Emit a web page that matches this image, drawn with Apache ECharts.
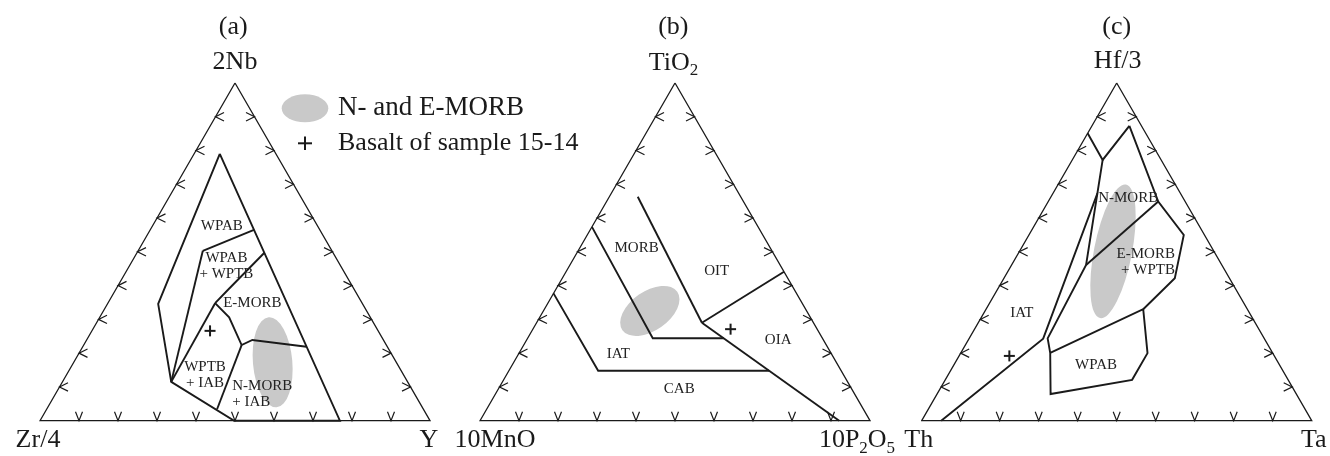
<!DOCTYPE html>
<html>
<head>
<meta charset="utf-8">
<script src="https://cdn.jsdelivr.net/npm/echarts@6/dist/echarts.min.js"></script>
<style>
  html, body { margin: 0; padding: 0; background: #fff; }
  #chart { width: 1330px; height: 456px; }
</style>
</head>
<body>
<div id="chart"></div>
<script>
// All compositions are [top, left, right] in percent of the three apices.
const tickFractions = [10, 20, 30, 40, 50, 60, 70, 80, 90];

const panelTitles = ['(a)', '(b)', '(c)'];
const apexNamesA = ['2Nb', 'Zr/4', 'Y'];
const apexNamesB = ['TiO2', '10MnO', '10P2O5'];
const apexNamesC = ['Hf/3', 'Th', 'Ta'];

// (a) 2Nb - Zr/4 - Y (Meschede)
const aFieldOutline = [[79.0, 14.4, 6.6], [34.6, 52.4, 13.0], [11.5, 60.6, 27.9], [0, 50.2, 49.8], [0, 23.1, 76.9], [79.0, 14.4, 6.6]];
const aWpabTop = [[50.3, 33.1, 16.6], [56.5, 16.9, 26.6]];
const aWpabWptbLeft = [[50.3, 33.1, 16.6], [11.5, 60.6, 27.9]];
const aEmorbTop = [[49.8, 17.5, 32.7], [38.7, 32.5, 28.8], [34.8, 37.7, 27.5]];
const aEmorbLeft = [[34.8, 37.7, 27.5], [11.5, 60.6, 27.9]];
const aEmorbBottom = [[34.8, 37.7, 27.5], [30.6, 36.2, 33.2], [22.4, 37.1, 40.5], [23.9, 33.6, 42.5], [21.9, 20.7, 57.4]];
const aNmorbLeft = [[22.4, 37.1, 40.5], [3.4, 52.9, 43.7]];
const aLabels = [
  { text: 'WPAB', at: [57.7, 24.6, 17.8] },
  { text: 'WPAB\n+ WPTB', at: [45.8, 29.3, 24.9] },
  { text: 'E-MORB', at: [34.9, 28.1, 37.0] },
  { text: 'WPTB\n+ IAB', at: [13.4, 51.0, 35.6] },
  { text: 'N-MORB\n+ IAB', at: [7.8, 46.8, 45.4] }
];
const aSample = [26.6, 43.1, 30.3];
const aMorb = { center: [17.3, 31.7, 51.0], semiMajor: 0.116, semiMinor: 0.0505, angle: 95 };

// (b) TiO2 - 10MnO - 10P2O5 (Mullen)
const bMorbOit = [[66.3, 26.4, 7.3], [29.0, 28.6, 42.4]];
const bOitOia = [[29.0, 28.6, 42.4], [44.1, 0, 55.9]];
const bOiaCab = [[29.0, 28.6, 42.4], [0, 7.9, 92.1]];
const bMorbIat = [[57.4, 42.6, 0], [24.4, 43.5, 32.1], [24.4, 25.3, 50.3]];
const bIatCab = [[37.7, 62.3, 0], [14.8, 62.3, 22.9], [14.8, 18.5, 66.7]];
const bLabels = [
  { text: 'MORB', at: [51.1, 34.3, 14.6] },
  { text: 'OIT', at: [44.4, 17.1, 38.5] },
  { text: 'OIA', at: [23.9, 11.6, 64.5] },
  { text: 'IAT', at: [19.8, 54.7, 25.6] },
  { text: 'CAB', at: [9.3, 44.3, 46.5] }
];
const bSample = [27.1, 22.2, 50.7];
const bMorb = { center: [32.5, 40.2, 27.3], semiMajor: 0.0859, semiMinor: 0.0503, angle: 35 };

// (c) Hf/3 - Th - Ta (Wood)
const cIatBoundary = [[0, 95.0, 5.0], [24.3, 56.7, 19.0], [67.3, 21.3, 11.4]];
const cApexSplit = [[85.1, 14.9, 0], [77.2, 15.0, 7.8], [87.3, 3.1, 9.6]];
const cNmorbLeft = [[77.2, 15.0, 7.8], [46.1, 34.8, 19.1], [24.4, 55.5, 20.1], [20.1, 57.0, 22.9]];
const cNmorbEmorb = [[46.1, 34.8, 19.1], [64.9, 6.9, 28.2]];
const cEmorbRight = [[87.3, 3.1, 9.6], [64.9, 6.9, 28.2], [55.0, 5.3, 39.7], [42.2, 14.0, 43.8], [33.0, 26.7, 40.3]];
const cWpab = [[20.1, 57.0, 22.9], [33.0, 26.7, 40.3], [20.0, 32.1, 47.9], [12.1, 40.0, 47.9], [7.9, 63.0, 29.1], [20.1, 57.0, 22.9]];
const cLabels = [
  { text: 'N-MORB', at: [65.9, 14.1, 20.0] },
  { text: 'E-MORB\n+ WPTB', at: [47.0, 11.6, 41.5] },
  { text: 'IAT', at: [32.0, 58.4, 9.7] },
  { text: 'WPAB', at: [16.5, 47.1, 36.5] }
];
const cSample = [19.2, 68.0, 12.9];
const cMorb = { center: [50.2, 25.9, 24.0], semiMajor: 0.1744, semiMinor: 0.0487, angle: 79 };

const legendMorbText = 'N- and E-MORB';
const legendSampleText = 'Basalt of sample 15-14';

// ---- layout and styles ----
const SQ3_2 = Math.sqrt(3) / 2;
const SIDE = 390;
const BASE = 420.7;
const triLeft = [40, 480, 921.7];
const SERIF = '"Liberation Serif", "Times New Roman", serif';
const INK = '#1a1a1a';
const FIELD_GRAY = '#c9c9c9';
const labelAlign = { 'N-MORB\n+ IAB': 'left', 'E-MORB\n+ WPTB': 'right' };
const apexOffsets = [
  [[0, -21], [-2, 19.5], [-1, 19.5]],
  [[-1.5, -20], [15, 19.5], [-13, 19.5]],
  [[1, -21.5], [-3, 19.5], [2, 19.5]]
];

function toXY(p) {
  const s = p[0] + p[1] + p[2];
  return [(p[2] + p[0] / 2) / s, (p[0] / s) * SQ3_2];
}

// chemical formula digits after a letter become subscripts
function formula(t) {
  return t.replace(/([A-Za-z])(\d+)/g, '$1{s|$2}');
}

const chart = echarts.init(document.getElementById('chart'), null, { renderer: 'canvas' });

function lineSeries(i, pts, width) {
  return {
    type: 'line', xAxisIndex: i, yAxisIndex: i,
    data: pts.map(toXY), symbol: 'none', clip: false, silent: true,
    animation: false, z: 3,
    lineStyle: { color: INK, width: width, join: 'miter' }
  };
}

function panelSeries(i, boundaries, labels, sample, morb, apexNames) {
  const list = [];
  // shaded MORB field
  list.push({
    type: 'custom', xAxisIndex: i, yAxisIndex: i, coordinateSystem: 'cartesian2d',
    data: [toXY(morb.center)], clip: false, silent: true, animation: false, z: 1,
    renderItem: function (params, api) {
      const c = api.coord([api.value(0), api.value(1)]);
      const unit = api.coord([1, 0])[0] - api.coord([0, 0])[0];
      return {
        type: 'circle', x: c[0], y: c[1],
        rotation: morb.angle * Math.PI / 180,
        scaleX: morb.semiMajor / morb.semiMinor,
        shape: { cx: 0, cy: 0, r: morb.semiMinor * unit },
        style: { fill: FIELD_GRAY }
      };
    }
  });
  // triangle frame
  list.push(lineSeries(i, [[100, 0, 0], [0, 100, 0], [0, 0, 100], [100, 0, 0]], 1.3));
  // arrow ticks on the three sides
  list.push({
    type: 'custom', xAxisIndex: i, yAxisIndex: i, coordinateSystem: 'cartesian2d',
    data: tickFractions.map(function (k) { return [k / 100, 0]; }),
    clip: false, silent: true, animation: false, z: 3,
    renderItem: function (params, api) {
      const k = api.value(0) * 100;
      const b = api.coord(toXY([0, 100 - k, k]));
      const l = api.coord(toXY([k, 100 - k, 0]));
      const r = api.coord(toXY([k, 0, 100 - k]));
      const st = { stroke: INK, lineWidth: 1.2, fill: null };
      return {
        type: 'group', children: [
          { type: 'polyline', shape: { points: [[b[0] - 3.5, b[1] - 9], [b[0], b[1]], [b[0] + 3.5, b[1] - 9]] }, style: st },
          { type: 'polyline', shape: { points: [[l[0] + 8.5, l[1] - 4.2], [l[0], l[1]], [l[0] + 8.5, l[1] + 4.2]] }, style: st },
          { type: 'polyline', shape: { points: [[r[0] - 8.5, r[1] - 4.2], [r[0], r[1]], [r[0] - 8.5, r[1] + 4.2]] }, style: st }
        ]
      };
    }
  });
  // field boundaries
  boundaries.forEach(function (pts) { list.push(lineSeries(i, pts, 1.9)); });
  // field names
  list.push({
    type: 'custom', xAxisIndex: i, yAxisIndex: i, coordinateSystem: 'cartesian2d',
    data: labels.map(function (d) { return toXY(d.at); }),
    clip: false, silent: true, animation: false, z: 5,
    renderItem: function (params, api) {
      const p = api.coord([api.value(0), api.value(1)]);
      const t = labels[params.dataIndex].text;
      return {
        type: 'text', x: p[0], y: p[1],
        style: {
          text: t, fontSize: 15, fontFamily: SERIF, fill: '#222',
          align: labelAlign[t] || 'center', verticalAlign: 'middle', lineHeight: 16
        }
      };
    }
  });
  // sample point
  list.push({
    type: 'custom', xAxisIndex: i, yAxisIndex: i, coordinateSystem: 'cartesian2d',
    data: [toXY(sample)], clip: false, silent: true, animation: false, z: 6,
    renderItem: function (params, api) {
      const p = api.coord([api.value(0), api.value(1)]);
      const st = { stroke: INK, lineWidth: 2 };
      return {
        type: 'group', children: [
          { type: 'line', shape: { x1: p[0] - 5.5, y1: p[1], x2: p[0] + 5.5, y2: p[1] }, style: st },
          { type: 'line', shape: { x1: p[0], y1: p[1] - 5.5, x2: p[0], y2: p[1] + 5.5 }, style: st }
        ]
      };
    }
  });
  // apex names
  list.push({
    type: 'custom', xAxisIndex: i, yAxisIndex: i, coordinateSystem: 'cartesian2d',
    data: [toXY([100, 0, 0]), toXY([0, 100, 0]), toXY([0, 0, 100])],
    clip: false, silent: true, animation: false, z: 5,
    renderItem: function (params, api) {
      const p = api.coord([api.value(0), api.value(1)]);
      const off = apexOffsets[i][params.dataIndex];
      return {
        type: 'text', x: p[0] + off[0], y: p[1] + off[1],
        style: {
          text: formula(apexNames[params.dataIndex]),
          fontSize: 26, fontFamily: SERIF, fill: INK,
          align: 'center', verticalAlign: 'middle',
          rich: { s: { fontSize: 17, fontFamily: SERIF, fill: INK, padding: [16, 0, 0, 0], verticalAlign: 'middle' } }
        }
      };
    }
  });
  return list;
}

const series = [].concat(
  panelSeries(0, [aFieldOutline, aWpabTop, aWpabWptbLeft, aEmorbTop, aEmorbLeft, aEmorbBottom, aNmorbLeft], aLabels, aSample, aMorb, apexNamesA),
  panelSeries(1, [bMorbOit, bOitOia, bOiaCab, bMorbIat, bIatCab], bLabels, bSample, bMorb, apexNamesB),
  panelSeries(2, [cIatBoundary, cApexSplit, cNmorbLeft, cNmorbEmorb, cEmorbRight, cWpab], cLabels, cSample, cMorb, apexNamesC)
);

const titleStyle = { fontSize: 26, fontFamily: SERIF, fill: INK, align: 'center', verticalAlign: 'middle' };

chart.setOption({
  backgroundColor: '#fff',
  animation: false,
  grid: triLeft.map(function (l) {
    return { left: l, top: BASE - SIDE * SQ3_2, width: SIDE, height: SIDE * SQ3_2 };
  }),
  xAxis: triLeft.map(function (l, i) { return { type: 'value', gridIndex: i, min: 0, max: 1, show: false }; }),
  yAxis: triLeft.map(function (l, i) { return { type: 'value', gridIndex: i, min: 0, max: SQ3_2, show: false }; }),
  graphic: [
    { type: 'text', x: 233.3, y: 27.3, style: Object.assign({ text: panelTitles[0] }, titleStyle) },
    { type: 'text', x: 673.3, y: 27.3, style: Object.assign({ text: panelTitles[1] }, titleStyle) },
    { type: 'text', x: 1116.7, y: 27.3, style: Object.assign({ text: panelTitles[2] }, titleStyle) },
    { type: 'circle', x: 305, y: 108.3, scaleX: 23.3 / 14, shape: { cx: 0, cy: 0, r: 14 }, style: { fill: FIELD_GRAY } },
    { type: 'text', x: 338, y: 108.3, style: { text: legendMorbText, fontSize: 27, fontFamily: SERIF, fill: INK, align: 'left', verticalAlign: 'middle' } },
    { type: 'line', shape: { x1: 298, y1: 143.3, x2: 312, y2: 143.3 }, style: { stroke: INK, lineWidth: 2 } },
    { type: 'line', shape: { x1: 305, y1: 136.5, x2: 305, y2: 150 }, style: { stroke: INK, lineWidth: 2 } },
    { type: 'text', x: 338, y: 143.3, style: { text: legendSampleText, fontSize: 26, fontFamily: SERIF, fill: INK, align: 'left', verticalAlign: 'middle' } }
  ],
  series: series
});
</script>
</body>
</html>
